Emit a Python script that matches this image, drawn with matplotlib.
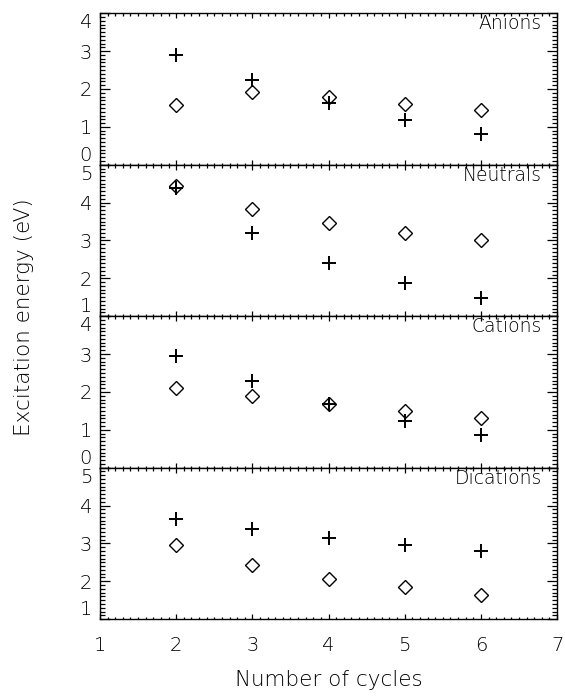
import matplotlib
matplotlib.use("Agg")
import matplotlib.pyplot as plt
from matplotlib.ticker import MultipleLocator

# data
cycles = [2, 3, 4, 5, 6]
panel_names = ["Anions", "Neutrals", "Cations", "Dications"]
panel_ylims = [(0, 4), (1, 5), (0, 4), (1, 5)]

anions_plus = [2.91, 2.24, 1.63, 1.17, 0.82]
anions_diamond = [1.59, 1.91, 1.79, 1.60, 1.44]
neutrals_plus = [4.38, 3.19, 2.41, 1.87, 1.48]
neutrals_diamond = [4.45, 3.84, 3.45, 3.19, 3.00]
cations_plus = [2.95, 2.29, 1.68, 1.22, 0.87]
cations_diamond = [2.10, 1.89, 1.68, 1.50, 1.31]
dications_plus = [3.65, 3.37, 3.15, 2.95, 2.80]
dications_diamond = [2.97, 2.42, 2.07, 1.85, 1.64]

plus_sets = [anions_plus, neutrals_plus, cations_plus, dications_plus]
diamond_sets = [anions_diamond, neutrals_diamond, cations_diamond, dications_diamond]

plt.rcParams['font.family'] = ['DejaVu Sans']
plt.rcParams['font.weight'] = 'light'
plt.rcParams['axes.labelweight'] = 'light'

fig = plt.figure(figsize=(5.65, 6.98), dpi=100)
axes = fig.subplots(4, 1, sharex=True)
fig.subplots_adjust(left=0.177, right=0.986, top=0.981, bottom=0.113, hspace=0)

for i, ax in enumerate(axes):
    ax.plot(cycles, diamond_sets[i], linestyle='none', marker='D', ms=7.4,
            mfc='none', mec='black', mew=1.0)
    ax.plot(cycles, plus_sets[i], linestyle='none', marker='+', ms=10,
            mec='black', mew=1.4)

    lo, hi = panel_ylims[i]
    ax.set_ylim(lo, hi)
    ax.set_yticks(range(lo, hi + 1))
    ax.yaxis.set_minor_locator(MultipleLocator(0.1))
    ax.set_xlim(1, 7)
    ax.xaxis.set_major_locator(MultipleLocator(1))
    ax.xaxis.set_minor_locator(MultipleLocator(0.1))

    ax.tick_params(axis='both', which='both', direction='in',
                   top=True, right=True, width=0.9, labelsize=14,
                   labelcolor='black')
    ax.tick_params(axis='y', which='major', length=7.2, pad=5.8)
    ax.tick_params(axis='y', which='minor', length=3.6)
    ax.tick_params(axis='x', which='major', length=3.6, pad=12)
    ax.tick_params(axis='x', which='minor', length=1.8)
    for s in ax.spines.values():
        s.set_linewidth(1.0)

    # IDL-like placement of the end labels
    ticks = ax.yaxis.get_major_ticks()
    ticks[-1].label1.set_verticalalignment('top')
    ticks[0].label1.set_verticalalignment('bottom')

    ax.text(0.967, 0.93, panel_names[i], transform=ax.transAxes,
            ha='right', va='center', fontsize=13.5)

axes[-1].set_xlabel("Number of cycles", fontsize=15.5, labelpad=11)
fig.text(0.042, 1 - 317 / 698, "Excitation energy (eV)", rotation=90,
         ha='center', va='center', fontsize=15.5)

fig.savefig("out.png", dpi=100)
